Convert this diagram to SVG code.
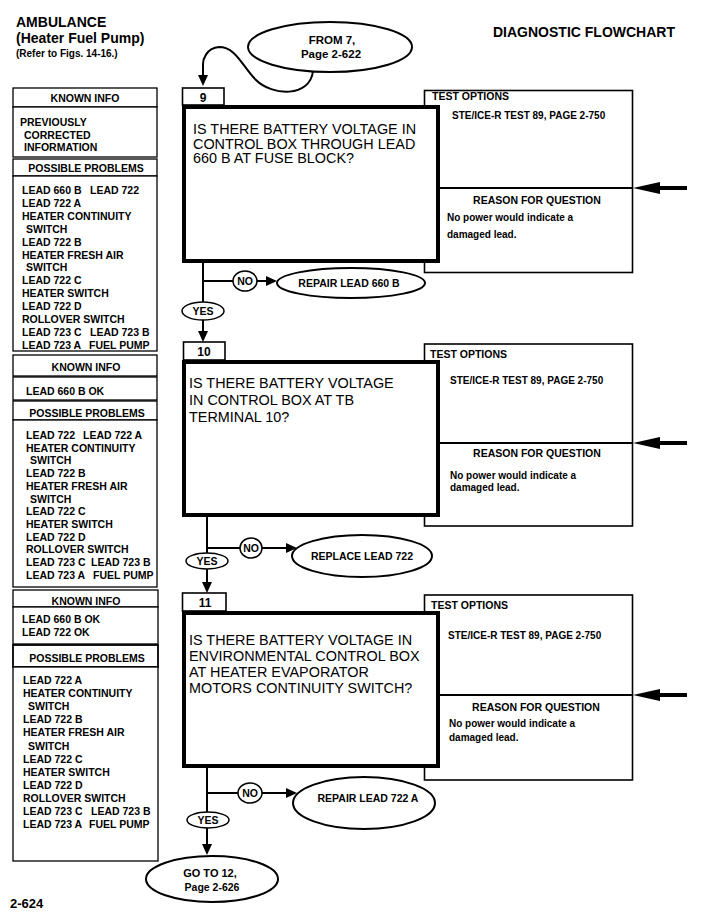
<svg xmlns="http://www.w3.org/2000/svg" width="701" height="917" viewBox="0 0 701 917">
<style>
text{font-family:"Liberation Sans",Arial,sans-serif;fill:#000}
.h{font-size:14px;font-weight:bold}
.r{font-size:10px;font-weight:bold}
.s{font-size:10.5px;font-weight:bold}
.c{font-size:10.5px;font-weight:bold;text-anchor:middle}
.q{font-size:14.4px}
.m{text-anchor:middle}
.bx{fill:#fff;stroke:#000;stroke-width:1.3}
.qb{fill:#fff;stroke:#000;stroke-width:4}
.pn{fill:#fff;stroke:#000;stroke-width:1.6}
.el{fill:#fff;stroke:#000;stroke-width:2}
.yn{fill:#fff;stroke:#000;stroke-width:1.5}
.ln{fill:none;stroke:#000;stroke-width:2}
.big{fill:none;stroke:#000;stroke-width:4}
</style>
<defs>
<marker id="ah" viewBox="0 0 11 10" refX="0" refY="5" markerWidth="11" markerHeight="10" markerUnits="userSpaceOnUse" orient="auto"><path d="M0,0 L11,5 L0,10 z"/></marker>
<marker id="bh" viewBox="0 0 27 12" refX="0" refY="6" markerWidth="27" markerHeight="12" markerUnits="userSpaceOnUse" orient="auto"><path d="M0,0 L27,6 L0,12 z"/></marker>
</defs>

<g id="header">
<text class="h" x="16" y="27">AMBULANCE</text>
<text class="h" x="16" y="43">(Heater Fuel Pump)</text>
<text class="r" x="16" y="57">(Refer to Figs. 14-16.)</text>
<text class="h" x="493" y="37">DIAGNOSTIC FLOWCHART</text>
<text class="h" x="10" y="908" style="font-size:13px">2-624</text>
</g>

<g id="connectors">
<path class="ln" d="M313,71 C310,98 272,96 256,80 C242,66 236,47 219,47 C206,48 203,60 203,64 L203,75" marker-end="url(#ah)"/>
<line class="ln" x1="203" y1="263" x2="203" y2="303"/>
<line class="ln" x1="203" y1="281" x2="234" y2="281"/>
<line class="ln" x1="257" y1="281" x2="266" y2="281" marker-end="url(#ah)"/>
<line class="ln" x1="203" y1="320" x2="203" y2="331" marker-end="url(#ah)"/>
<line class="big" x1="687" y1="188" x2="660" y2="188" marker-end="url(#bh)"/>

<line class="ln" x1="207" y1="517" x2="207" y2="553"/>
<line class="ln" x1="207" y1="548" x2="240" y2="548"/>
<line class="ln" x1="262" y1="548" x2="286" y2="548" marker-end="url(#ah)"/>
<line class="ln" x1="207" y1="569" x2="207" y2="582" marker-end="url(#ah)"/>
<line class="big" x1="687" y1="443" x2="660" y2="443" marker-end="url(#bh)"/>

<line class="ln" x1="207" y1="768" x2="207" y2="812"/>
<line class="ln" x1="207" y1="793" x2="238" y2="793"/>
<line class="ln" x1="262" y1="793" x2="286" y2="793" marker-end="url(#ah)"/>
<line class="ln" x1="207" y1="828" x2="207" y2="844" marker-end="url(#ah)"/>
<line class="big" x1="687" y1="695" x2="660" y2="695" marker-end="url(#bh)"/>
</g>

<g id="from7">
<ellipse class="el" cx="330" cy="47" rx="82" ry="25"/>
<text class="s m" x="332" y="44" style="font-size:11.5px">FROM 7,</text>
<text class="s m" x="331" y="58" style="font-size:11.5px">Page 2-622</text>
</g>

<g id="info9">
<rect class="bx" x="13" y="88" width="144" height="19"/>
<text class="c" x="85" y="102">KNOWN INFO</text>
<rect class="bx" x="13" y="107" width="144" height="50"/>
<text class="s" x="20" y="126">PREVIOUSLY</text>
<text class="s" x="24" y="139">CORRECTED</text>
<text class="s" x="24" y="151">INFORMATION</text>
<rect class="bx" x="13" y="159" width="144" height="17"/>
<text class="c" x="86" y="172">POSSIBLE PROBLEMS</text>
<rect class="bx" x="13" y="176" width="144" height="175"/>
<text class="s" x="22" y="194">LEAD 660 B</text><text class="s" x="90" y="194">LEAD 722</text>
<text class="s" x="22" y="206.9">LEAD 722 A</text>
<text class="s" x="22" y="219.8">HEATER CONTINUITY</text>
<text class="s" x="26" y="232.7">SWITCH</text>
<text class="s" x="22" y="245.6">LEAD 722 B</text>
<text class="s" x="22" y="258.5">HEATER FRESH AIR</text>
<text class="s" x="26" y="271.4">SWITCH</text>
<text class="s" x="22" y="284.3">LEAD 722 C</text>
<text class="s" x="22" y="297.2">HEATER SWITCH</text>
<text class="s" x="22" y="310.1">LEAD 722 D</text>
<text class="s" x="22" y="323">ROLLOVER SWITCH</text>
<text class="s" x="22" y="335.9">LEAD 723 C</text><text class="s" x="90" y="335.9">LEAD 723 B</text>
<text class="s" x="22" y="348.8">LEAD 723 A</text><text class="s" x="89" y="348.8">FUEL PUMP</text>
</g>

<g id="step9">
<rect class="pn" x="424.5" y="90.5" width="208" height="182"/>
<line class="ln" x1="440" y1="188" x2="633" y2="188"/>
<text class="s" x="432" y="100">TEST OPTIONS</text>
<text class="r" x="452" y="119">STE/ICE-R TEST 89, PAGE 2-750</text>
<text class="c" x="537" y="204">REASON FOR QUESTION</text>
<text class="r" x="447" y="221">No power would indicate a</text>
<text class="r" x="447" y="238">damaged lead.</text>
<rect class="qb" x="184" y="107" width="254" height="154"/>
<text class="q" x="193" y="134">IS THERE BATTERY VOLTAGE IN</text>
<text class="q" x="193" y="148.5">CONTROL BOX THROUGH LEAD</text>
<text class="q" x="193" y="163">660 B AT FUSE BLOCK?</text>
<rect class="bx" x="182.5" y="88" width="41.5" height="17" style="stroke-width:1.6"/>
<text class="h m" x="203" y="102" style="font-size:12px">9</text>
</g>

<g id="no9">
<ellipse class="yn" cx="245" cy="281" rx="12" ry="10"/>
<text class="s m" x="245" y="285">NO</text>
</g>
<g id="repair660">
<ellipse class="el" cx="351" cy="283" rx="74" ry="15"/>
<text class="s m" x="349" y="287">REPAIR LEAD 660 B</text>
</g>
<g id="yes9">
<ellipse class="yn" cx="203" cy="311" rx="21" ry="9"/>
<text class="s m" x="203" y="315">YES</text>
</g>

<g id="info10">
<rect class="bx" x="13" y="355" width="144" height="21"/>
<text class="c" x="86" y="371">KNOWN INFO</text>
<rect class="bx" x="13" y="377" width="144" height="23"/>
<text class="s" x="26" y="395">LEAD 660 B OK</text>
<rect class="bx" x="13" y="401" width="144" height="19"/>
<text class="c" x="87" y="417">POSSIBLE PROBLEMS</text>
<rect class="bx" x="13" y="420" width="144" height="167"/>
<text class="s" x="26" y="439">LEAD 722</text><text class="s" x="83" y="439">LEAD 722 A</text>
<text class="s" x="26" y="451.7">HEATER CONTINUITY</text>
<text class="s" x="30" y="464.4">SWITCH</text>
<text class="s" x="26" y="477.1">LEAD 722 B</text>
<text class="s" x="26" y="489.8">HEATER FRESH AIR</text>
<text class="s" x="30" y="502.5">SWITCH</text>
<text class="s" x="26" y="515.2">LEAD 722 C</text>
<text class="s" x="26" y="527.9">HEATER SWITCH</text>
<text class="s" x="26" y="540.6">LEAD 722 D</text>
<text class="s" x="26" y="553.3">ROLLOVER SWITCH</text>
<text class="s" x="26" y="566">LEAD 723 C</text><text class="s" x="91" y="566">LEAD 723 B</text>
<text class="s" x="26" y="578.7">LEAD 723 A</text><text class="s" x="93" y="578.7">FUEL PUMP</text>
</g>

<g id="step10">
<rect class="pn" x="424.5" y="344" width="208" height="182"/>
<line class="ln" x1="440" y1="443" x2="633" y2="443"/>
<text class="s" x="430" y="358">TEST OPTIONS</text>
<text class="r" x="450" y="384">STE/ICE-R TEST 89, PAGE 2-750</text>
<text class="c" x="537" y="457">REASON FOR QUESTION</text>
<text class="r" x="450" y="479">No power would indicate a</text>
<text class="r" x="450" y="491">damaged lead.</text>
<rect class="qb" x="184" y="362" width="254" height="153"/>
<text class="q" x="189" y="388">IS THERE BATTERY VOLTAGE</text>
<text class="q" x="189" y="405">IN CONTROL BOX AT TB</text>
<text class="q" x="189" y="422">TERMINAL 10?</text>
<rect class="bx" x="183.5" y="342" width="41.5" height="18" style="stroke-width:1.6"/>
<text class="h m" x="204" y="356" style="font-size:12px">10</text>
</g>

<g id="no10">
<ellipse class="yn" cx="251" cy="548" rx="11" ry="10"/>
<text class="s m" x="251" y="552">NO</text>
</g>
<g id="replace722">
<ellipse class="el" cx="362" cy="556" rx="70" ry="21"/>
<text class="s m" x="362" y="560">REPLACE LEAD 722</text>
</g>
<g id="yes10">
<ellipse class="yn" cx="207" cy="561" rx="21" ry="8"/>
<text class="s m" x="207" y="565">YES</text>
</g>

<g id="info11">
<rect class="bx" x="13" y="590" width="145" height="17"/>
<text class="c" x="86" y="605">KNOWN INFO</text>
<rect class="bx" x="13" y="607" width="145" height="37"/>
<text class="s" x="22" y="623">LEAD 660 B OK</text>
<text class="s" x="22" y="636">LEAD 722 OK</text>
<rect class="bx" x="13" y="645" width="145" height="22" style="stroke-width:1.8"/>
<text class="c" x="87" y="662">POSSIBLE PROBLEMS</text>
<rect class="bx" x="13" y="667" width="145" height="194"/>
<text class="s" x="23" y="684">LEAD 722 A</text>
<text class="s" x="23" y="697.1">HEATER CONTINUITY</text>
<text class="s" x="28" y="710.2">SWITCH</text>
<text class="s" x="23" y="723.3">LEAD 722 B</text>
<text class="s" x="23" y="736.4">HEATER FRESH AIR</text>
<text class="s" x="28" y="749.5">SWITCH</text>
<text class="s" x="23" y="762.6">LEAD 722 C</text>
<text class="s" x="23" y="775.7">HEATER SWITCH</text>
<text class="s" x="23" y="788.8">LEAD 722 D</text>
<text class="s" x="23" y="801.9">ROLLOVER SWITCH</text>
<text class="s" x="23" y="815">LEAD 723 C</text><text class="s" x="91" y="815">LEAD 723 B</text>
<text class="s" x="23" y="828.1">LEAD 723 A</text><text class="s" x="89" y="828.1">FUEL PUMP</text>
</g>

<g id="step11">
<rect class="pn" x="424.5" y="595" width="208" height="185"/>
<line class="ln" x1="440" y1="695" x2="633" y2="695"/>
<text class="s" x="431" y="609">TEST OPTIONS</text>
<text class="r" x="448" y="639">STE/ICE-R TEST 89, PAGE 2-750</text>
<text class="c" x="536" y="711">REASON FOR QUESTION</text>
<text class="r" x="449" y="727">No power would indicate a</text>
<text class="r" x="449" y="741">damaged lead.</text>
<rect class="qb" x="184" y="613" width="254" height="153"/>
<text class="q" x="189" y="645">IS THERE BATTERY VOLTAGE IN</text>
<text class="q" x="189" y="661">ENVIRONMENTAL CONTROL BOX</text>
<text class="q" x="189" y="677">AT HEATER EVAPORATOR</text>
<text class="q" x="189" y="693">MOTORS CONTINUITY SWITCH?</text>
<rect class="bx" x="182.5" y="593" width="43.5" height="18" style="stroke-width:1.6"/>
<text class="h m" x="205" y="607" style="font-size:12px">11</text>
</g>

<g id="no11">
<ellipse class="yn" cx="250" cy="793" rx="12" ry="10"/>
<text class="s m" x="250" y="797">NO</text>
</g>
<g id="repair722a">
<ellipse class="el" cx="364" cy="803" rx="71" ry="26"/>
<text class="s m" x="368" y="802">REPAIR LEAD 722 A</text>
</g>
<g id="yes11">
<ellipse class="yn" cx="208" cy="820" rx="21" ry="8"/>
<text class="s m" x="208" y="824">YES</text>
</g>

<g id="goto12">
<ellipse class="el" cx="212" cy="879" rx="66" ry="23"/>
<text class="s m" x="210" y="877" style="font-size:11px">GO TO 12,</text>
<text class="s m" x="212" y="891">Page 2-626</text>
</g>
</svg>
